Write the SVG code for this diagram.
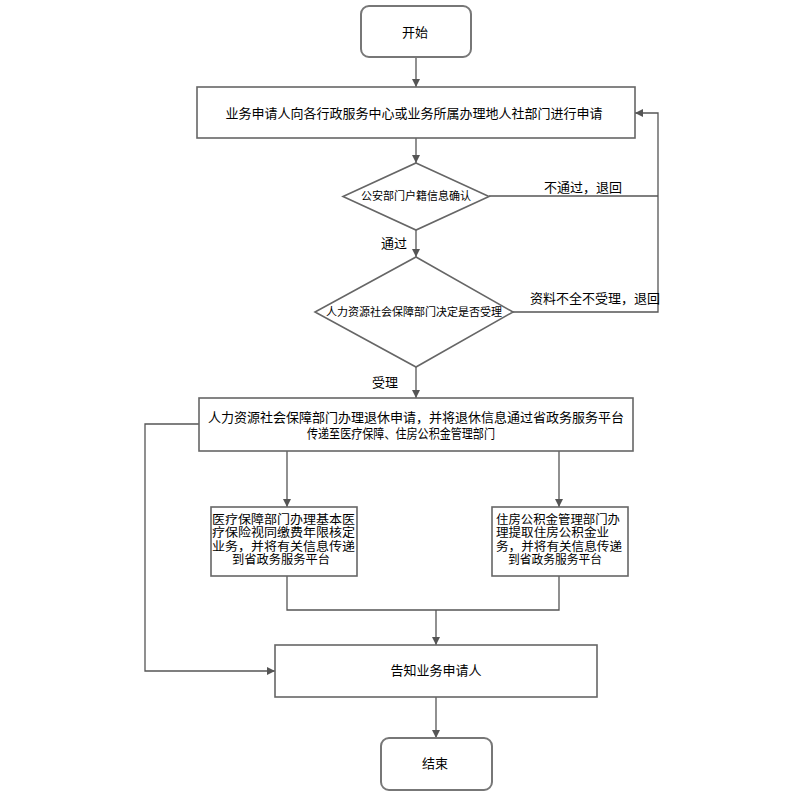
<svg xmlns="http://www.w3.org/2000/svg" width="795" height="800" viewBox="0 0 795 800">
<style>
.box{fill:#fff;stroke:#666;stroke-width:1.6}
.term{fill:#fff;stroke:#777;stroke-width:2}
.ln{fill:none;stroke:#555;stroke-width:1.3}
text{font-family:"Noto Sans CJK SC","Noto Sans",sans-serif;fill:#000;font-size:13px}
.c{text-anchor:middle}
.sm{font-size:11px}
.bt{font-size:12px}
</style>
<defs>
<marker id="ah" viewBox="0 0 10 10" refX="10" refY="5" markerWidth="8" markerHeight="8" markerUnits="userSpaceOnUse" orient="auto">
<path d="M0,0 L10,5 L0,10 z" fill="#555"/>
</marker>
</defs>
<rect width="795" height="800" fill="#fff"/>
<g id="connectors">
<path class="ln" d="M416,57 V87" marker-end="url(#ah)"/>
<path class="ln" d="M416,138 V163" marker-end="url(#ah)"/>
<path class="ln" d="M416,230 V257" marker-end="url(#ah)"/>
<path class="ln" d="M489,196 H658"/>
<path class="ln" d="M513,312 H658 V113 H635" marker-end="url(#ah)"/>
<path class="ln" d="M416,367 V398" marker-end="url(#ah)"/>
<path class="ln" d="M287,451 V507" marker-end="url(#ah)"/>
<path class="ln" d="M559,451 V507" marker-end="url(#ah)"/>
<path class="ln" d="M199,424 H145 V671 H275" marker-end="url(#ah)"/>
<path class="ln" d="M287,576 V610 H559 V576"/>
<path class="ln" d="M436,610 V645" marker-end="url(#ah)"/>
<path class="ln" d="M436,697 V738" marker-end="url(#ah)"/>
<text x="544" y="192">不通过，退回</text>
<text x="381" y="248">通过</text>
<text x="530" y="303">资料不全不受理，退回</text>
<text x="372" y="387">受理</text>
</g>
<g id="start">
<rect class="term" x="361" y="6" width="110" height="51" rx="8"/>
<text class="c" x="415" y="37">开始</text>
</g>
<g id="apply">
<rect class="box" x="197" y="87" width="438" height="51"/>
<text class="c" x="414" y="118">业务申请人向各行政服务中心或业务所属办理地人社部门进行申请</text>
</g>
<g id="d1">
<polygon class="box" points="416,163 489,196.5 416,230 343,196.5"/>
<text class="c sm" x="416" y="200">公安部门户籍信息确认</text>
</g>
<g id="d2">
<polygon class="box" points="416,257 513,312 416,367 315,312"/>
<text class="c sm" x="414" y="316">人力资源社会保障部门决定是否受理</text>
</g>
<g id="handle">
<rect class="box" x="199" y="398" width="434" height="53"/>
<text class="c" x="416" y="422">人力资源社会保障部门办理退休申请，并将退休信息通过省政务服务平台</text>
<text x="307" y="438" textLength="188" lengthAdjust="spacingAndGlyphs">传递至医疗保障、住房公积金管理部门</text>
</g>
<g id="medical">
<rect class="box" x="211" y="507" width="146" height="69"/>
<text class="bt" x="212" y="523.5" textLength="143" lengthAdjust="spacingAndGlyphs">医疗保障部门办理基本医</text>
<text class="bt" x="212" y="537" textLength="143" lengthAdjust="spacingAndGlyphs">疗保险视同缴费年限核定</text>
<text class="bt" x="212" y="550.5" textLength="143" lengthAdjust="spacingAndGlyphs">业务，并将有关信息传递</text>
<text class="bt" x="232" y="564" textLength="98" lengthAdjust="spacingAndGlyphs">到省政务服务平台</text>
</g>
<g id="fund">
<rect class="box" x="492" y="507" width="136" height="69"/>
<text class="bt" x="496" y="523.5" textLength="124" lengthAdjust="spacingAndGlyphs">住房公积金管理部门办</text>
<text class="bt" x="496" y="537" textLength="113" lengthAdjust="spacingAndGlyphs">理提取住房公积金业</text>
<text class="bt" x="496" y="550.5" textLength="126" lengthAdjust="spacingAndGlyphs">务，并将有关信息传递</text>
<text class="bt" x="508" y="564" textLength="94" lengthAdjust="spacingAndGlyphs">到省政务服务平台</text>
</g>
<g id="notify">
<rect class="box" x="275" y="645" width="322" height="52"/>
<text class="c" x="436" y="675">告知业务申请人</text>
</g>
<g id="end">
<rect class="term" x="381" y="738" width="111" height="52" rx="8"/>
<text class="c" x="435" y="768">结束</text>
</g>
</svg>
